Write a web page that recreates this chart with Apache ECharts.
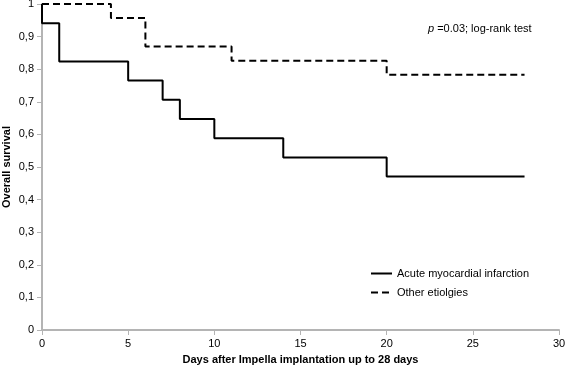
<!DOCTYPE html>
<html><head><meta charset="utf-8">
<script src="https://cdn.jsdelivr.net/npm/echarts@6/dist/echarts.min.js"></script>
<style>html,body{margin:0;padding:0;background:#fff}#c{width:566px;height:365px}</style>
</head><body><div id="c"></div>
<script>
var amiTimes = [0, 0, 1, 5, 7, 8, 10, 14, 20, 28];
var amiSurv  = [1, 0.941, 0.824, 0.765, 0.706, 0.647, 0.588, 0.529, 0.471, 0.471];
var othTimes = [0, 4, 6, 11, 20, 28];
var othSurv  = [1, 0.957, 0.870, 0.826, 0.783, 0.783];
var seriesNames = ['Acute myocardial infarction', 'Other etiolgies'];
var xTicks = [0, 5, 10, 15, 20, 25, 30];
var yTicks = ['0', '0,1', '0,2', '0,3', '0,4', '0,5', '0,6', '0,7', '0,8', '0,9', '1'];

function pairs(t, s) { return t.map(function (v, i) { return [v, s[i]]; }); }
var font = 'Liberation Sans, Arial, sans-serif';
var chart = echarts.init(document.getElementById('c'));
chart.setOption({
  animation: false,
  textStyle: { fontFamily: font },
  grid: { left: 42, right: 7, top: 4, bottom: 35, containLabel: false, outerBoundsMode: 'none' },
  title: {
    text: '{i|p} =0.03; log-rank test',
    left: 423, top: 18,
    textStyle: { fontSize: 11, fontWeight: 'normal', color: '#000', fontFamily: font,
      rich: { i: { fontStyle: 'italic', fontSize: 11, color: '#000', fontFamily: font } } }
  },
  legend: {
    show: true, orient: 'vertical', left: 365, top: 263, itemWidth: 21, itemHeight: 10, itemGap: 8,
    textStyle: { fontSize: 11, color: '#000', fontFamily: font },
    itemStyle: { opacity: 0 },
    data: seriesNames
  },
  xAxis: {
    type: 'value', min: 0, max: 30, interval: 5,
    name: 'Days after Impella implantation up to 28 days', nameLocation: 'middle', nameGap: 24,
    nameMoveOverlap: false,
    nameTextStyle: { fontWeight: 'bold', fontSize: 11, color: '#000', fontFamily: font },
    axisLine: { lineStyle: { color: '#b4b4b4', width: 2 } },
    axisTick: { show: true, length: 5, lineStyle: { color: '#b4b4b4', width: 1 } },
    axisLabel: { fontSize: 11, color: '#000', margin: 8, formatter: function (v) { return xTicks.indexOf(v) >= 0 ? String(v) : ''; } },
    splitLine: { show: false }
  },
  yAxis: {
    type: 'value', min: 0, max: 1, interval: 0.1,
    name: 'Overall survival', nameLocation: 'middle', nameGap: 30, nameRotate: 90,
    nameMoveOverlap: false,
    nameTextStyle: { fontWeight: 'bold', fontSize: 11, color: '#000', fontFamily: font },
    axisLine: { show: true, lineStyle: { color: '#b4b4b4', width: 2 } },
    axisTick: { show: true, length: 5, lineStyle: { color: '#b4b4b4', width: 1 } },
    axisLabel: { fontSize: 11, color: '#000', margin: 8, formatter: function (v) { return yTicks[Math.round(v * 10)]; } },
    splitLine: { show: false }
  },
  series: [
    { name: seriesNames[0], type: 'line', step: 'end', symbol: 'none', data: pairs(amiTimes, amiSurv),
      lineStyle: { color: '#000', width: 2 }, itemStyle: { color: '#000' } },
    { name: seriesNames[1], type: 'line', step: 'end', symbol: 'none', data: pairs(othTimes, othSurv),
      lineStyle: { color: '#000', width: 2, type: [7, 4] }, itemStyle: { color: '#000' } }
  ]
});
</script></body></html>
